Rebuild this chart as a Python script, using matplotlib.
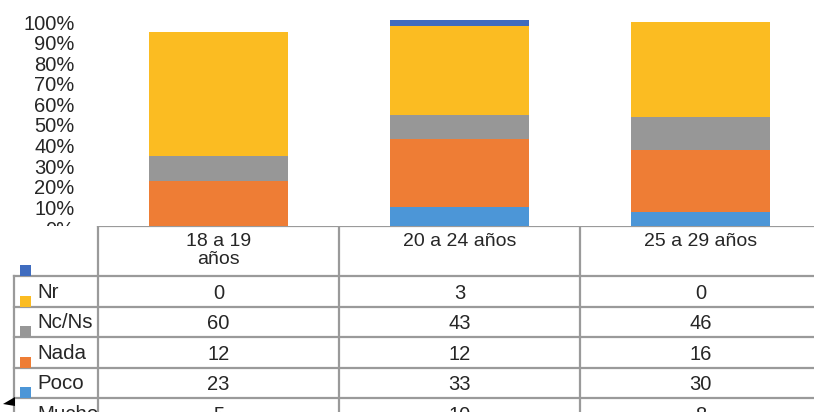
import matplotlib.pyplot as plt
import numpy as np
from matplotlib.ticker import PercentFormatter
from matplotlib.patches import Rectangle, Polygon

plt.rcParams['font.family'] = ['Liberation Sans', 'DejaVu Sans']

# --------------------------------------------------
# Data
# --------------------------------------------------
groups = ["18 a 19\naños", "20 a 24 años", "25 a 29 años"]
row_names = ["Nr", "Nc/Ns", "Nada", "Poco", "Mucho"]

nr = [0, 3, 0]
nc_ns = [60, 43, 46]
nada = [12, 12, 16]
poco = [23, 33, 30]
mucho = [5, 10, 8]
mucho_bars = [0, 10, 8]   # first group has no "Mucho" segment in the bars

colors = {
    "Nr": "#3F6CBF",
    "Nc/Ns": "#FBBC22",
    "Nada": "#979797",
    "Poco": "#EE7D35",
    "Mucho": "#4C96D7",
}
text_color = "#262626"
grid_color = "#9a9a9a"

W, H = 814, 412
fig = plt.figure(figsize=(W / 100, H / 100), dpi=100)

# --------------------------------------------------
# Stacked bars (pixel layout helpers)
# --------------------------------------------------
x0 = 98          # left edge of the data columns
col_w = 241      # width of each data column
zero_y = 228     # pixel row of 0%
px_per_unit = 2.06

ax_top = 0
ax = fig.add_axes([x0 / W, 1 - zero_y / H, 3 * col_w / W, (zero_y - ax_top) / H])
ax.set_xlim(-0.5, 2.5)
ax.set_ylim(0, (zero_y - ax_top) / px_per_unit)

x = np.arange(len(groups))
bar_w = 0.575
bottom = np.zeros(len(groups))
for name, vals in [("Mucho", mucho_bars), ("Poco", poco), ("Nada", nada),
                   ("Nc/Ns", nc_ns), ("Nr", nr)]:
    ax.bar(x, vals, bar_w, bottom=bottom, color=colors[name], linewidth=0)
    bottom += np.array(vals)

ax.set_yticks(np.arange(0, 101, 10))
ax.yaxis.set_major_formatter(PercentFormatter(100, decimals=0))
ax.tick_params(axis='y', length=0, pad=17, labelsize=14.5, labelcolor=text_color)
ax.set_xticks([])
for s in ax.spines.values():
    s.set_visible(False)

# --------------------------------------------------
# Data table underneath (covers the lower part of the axis)
# --------------------------------------------------
tbl_top = 226
tax = fig.add_axes([0, 0, 1, 1 - tbl_top / H], zorder=3)
tax.set_xlim(0, W)
tax.set_ylim(H - tbl_top, 0)
tax.axis("off")
tax.add_patch(Rectangle((0, 0), W, H - tbl_top, color="white", zorder=0))

head_h = 50
row_h = 30.5
lab_x = 14
lw = 1.6

# header row
tax.plot([x0, W], [0, 0], color=grid_color, lw=lw)
for i, g in enumerate(groups):
    tax.text(x0 + col_w * (i + 0.5), 7, g, ha="center", va="top",
             fontsize=14, color=text_color, linespacing=1.1)

# body rows
row_tops = [head_h + k * row_h for k in range(len(row_names) + 1)]
for yt in row_tops:
    tax.plot([lab_x, W], [yt, yt], color=grid_color, lw=lw)
tax.plot([lab_x, lab_x], [head_h, H], color=grid_color, lw=lw)
tax.plot([x0, x0], [0, H], color=grid_color, lw=lw)
for i in range(1, 3):
    tax.plot([x0 + col_w * i] * 2, [0, H], color=grid_color, lw=lw)

table_vals = [nr, nc_ns, nada, poco, mucho]
key = 11
for k, (name, vals) in enumerate(zip(row_names, table_vals)):
    yc = row_tops[k] + row_h / 2
    lab = tax.text(37, yc + 1, name, ha="left", va="center", fontsize=14.8,
                   color=text_color)
    cell = Rectangle((lab_x, row_tops[k]), x0 - lab_x - 1, row_h,
                     transform=tax.transData)
    lab.set_clip_on(True)
    lab.set_clip_path(cell)
    for i, v in enumerate(vals):
        tax.text(x0 + col_w * (i + 0.5), yc + 2, str(v), ha="center",
                 va="center", fontsize=14.5, color=text_color)
    # legend key sits at the bottom of the row above
    tax.add_patch(Rectangle((20, row_tops[k] - key), key, key,
                            color=colors[name], lw=0, zorder=4))

# small corner handle
tax.add_patch(Polygon([(3, 178), (15, 171), (15, 180)], closed=True,
                      color="black", lw=0, zorder=5))

fig.savefig("out.png", dpi=100)
